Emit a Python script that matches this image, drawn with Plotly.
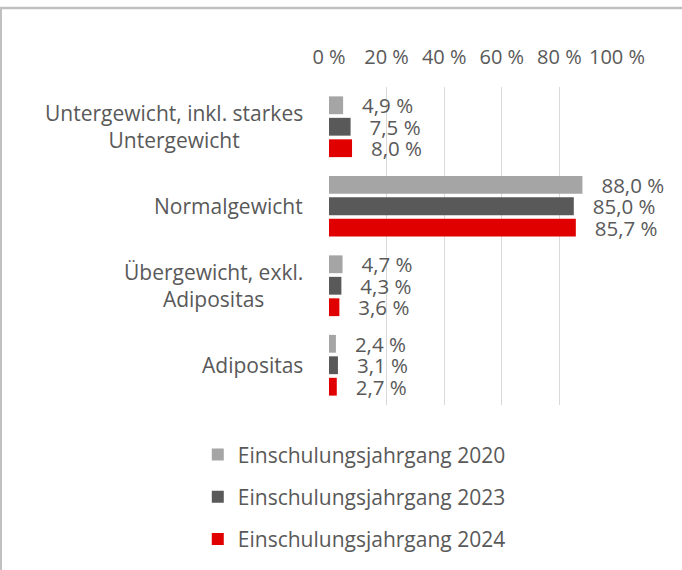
import plotly.graph_objects as go

categories = ["Untergewicht, inkl. starkes<br>Untergewicht", "Normalgewicht",
              "Übergewicht, exkl.<br>Adipositas", "Adipositas"]
series_names = ["Einschulungsjahrgang 2020", "Einschulungsjahrgang 2023", "Einschulungsjahrgang 2024"]
values_2020 = [4.9, 88.0, 4.7, 2.4]
values_2023 = [7.5, 85.0, 4.3, 3.1]
values_2024 = [8.0, 85.7, 3.6, 2.7]
tick_values = [0, 20, 40, 60, 80, 100]
tick_labels = ["0 %", "20 %", "40 %", "60 %", "80 %", "100 %"]

colors = ["#A5A5A5", "#595959", "#E00000"]
FONT = "Open Sans"
TXT = "#595959"


def fmt(v):
    return "\u00a0\u00a0\u00a0" + f"{v:.1f}".replace(".", ",") + " %"


fig = go.Figure()
for i, (name, vals) in enumerate(zip(series_names, [values_2020, values_2023, values_2024])):
    fig.add_trace(go.Bar(
        y=categories, x=vals, orientation="h", name=name,
        marker=dict(color=colors[i], line=dict(width=0)),
        text=[fmt(v) for v in vals], textposition="outside",
        textfont=dict(family=FONT, size=20.5, color=TXT),
        constraintext="none", cliponaxis=False,
        legendgroup=f"g{i}", hoverinfo="skip",
    ))

for c in categories:
    fig.add_annotation(x=0, xref="paper", y=c, yref="y", text=c, showarrow=False,
                       xanchor="right", yanchor="middle", align="center", xshift=-24,
                       font=dict(family=FONT, size=21, color=TXT))

fig.update_layout(
    width=682, height=570,
    margin=dict(l=329, r=65, t=87, b=165, autoexpand=False),
    paper_bgcolor="white", plot_bgcolor="white",
    barmode="group", bargap=0.19, bargroupgap=0.17,
    font=dict(family=FONT, size=20, color=TXT),
    showlegend=True,
    legend=dict(orientation="v", xref="container", yref="container", x=0.29, y=0.238,
                xanchor="left", yanchor="top", tracegroupgap=12,
                font=dict(family=FONT, size=21, color=TXT), itemclick=False),
    xaxis=dict(side="top", range=[0, 100], tickvals=tick_values, ticktext=tick_labels,
               showgrid=True, gridcolor="#D9D9D9", gridwidth=1.3, zeroline=False,
               showline=False, ticks="", ticklabelstandoff=18, tickangle=0,
               automargin=False,
               tickfont=dict(family=FONT, size=20, color=TXT), fixedrange=True),
    yaxis=dict(autorange="reversed", showticklabels=False, showgrid=False, zeroline=False,
               showline=False, ticks="", fixedrange=True, automargin=False),
    shapes=[
        dict(type="line", xref="paper", yref="paper", x0=-329/288, x1=(682-329)/288 + 0.05,
             y0=1 + 79/318, y1=1 + 79/318, line=dict(color="#C0C0C0", width=2.5)),
        dict(type="line", xref="paper", yref="paper", x0=-328/288, x1=-328/288,
             y0=1 + 79/318, y1=-0.6, line=dict(color="#C0C0C0", width=2)),
    ],
)

fig.write_html("out.html", config={"displayModeBar": False},
               post_script="document.body.style.margin='0';")
